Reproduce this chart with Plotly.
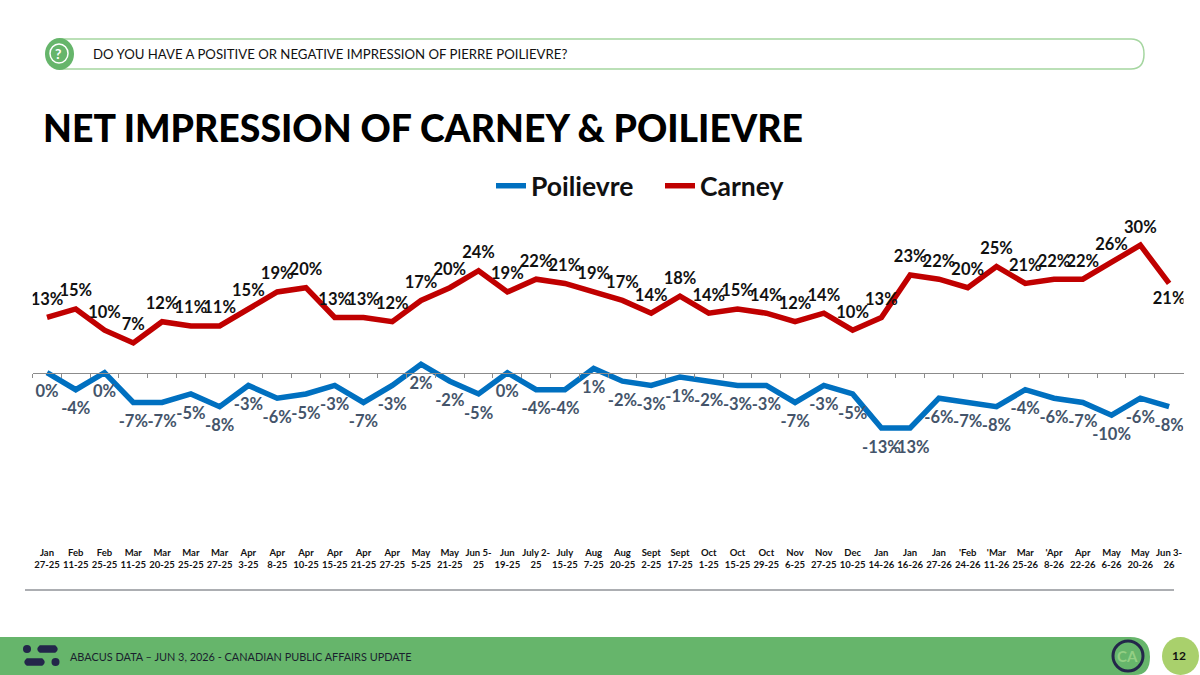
import plotly.graph_objects as go

W, H = 1200, 675

dates = ["Jan<br>27-25", "Feb<br>11-25", "Feb<br>25-25", "Mar<br>11-25", "Mar<br>20-25", "Mar<br>25-25", "Mar<br>27-25",
         "Apr<br>3-25", "Apr<br>8-25", "Apr<br>10-25", "Apr<br>15-25", "Apr<br>21-25", "Apr<br>27-25", "May<br>5-25",
         "May<br>21-25", "Jun 5-<br>25", "Jun<br>19-25", "July 2-<br>25", "July<br>15-25", "Aug<br>7-25", "Aug<br>20-25",
         "Sept<br>2-25", "Sept<br>17-25", "Oct<br>1-25", "Oct<br>15-25", "Oct<br>29-25", "Nov<br>6-25", "Nov<br>27-25",
         "Dec<br>10-25", "Jan<br>14-26", "Jan<br>16-26", "Jan<br>27-26", "'Feb<br>24-26", "'Mar<br>11-26", "Mar<br>25-26",
         "'Apr<br>8-26", "Apr<br>22-26", "May<br>6-26", "May<br>20-26", "Jun 3-<br>26"]
poilievre = [0, -4, 0, -7, -7, -5, -8, -3, -6, -5, -3, -7, -3, 2, -2, -5, 0, -4, -4, 1,
             -2, -3, -1, -2, -3, -3, -7, -3, -5, -13, -13, -6, -7, -8, -4, -6, -7, -10, -6, -8]
carney = [13, 15, 10, 7, 12, 11, 11, 15, 19, 20, 13, 13, 12, 17, 20, 24, 19, 22, 21, 19,
          17, 14, 18, 14, 15, 14, 12, 14, 10, 13, 23, 22, 20, 25, 21, 22, 22, 26, 30, 21]

FONT = "Lato"
GREEN = "#66B56B"
NAVY = "#23264A"
CLEAR = "rgba(0,0,0,0)"


def px(x):
    return x / W


def py(y):
    return 1 - y / H


def pct(vals):
    return [f"{v}%" for v in vals]


def pill(x0, x1, yc, h):
    r = h / 2
    return dict(type="path", xref="paper", yref="paper", fillcolor=NAVY, line_width=0,
                path=f"M {px(x0 + r)} {py(yc - r)} L {px(x1 - r)} {py(yc - r)} "
                     f"Q {px(x1 + r / 3)} {py(yc)} {px(x1 - r)} {py(yc + r)} L {px(x0 + r)} {py(yc + r)} "
                     f"Q {px(x0 - r / 3)} {py(yc)} {px(x0 + r)} {py(yc - r)} Z")


# invisible markers only push the labels off the line
fig = go.Figure()
fig.add_trace(go.Scatter(x=dates, y=poilievre, name="Poilievre", mode="lines+markers+text", xaxis="x2",
                         line=dict(color="#0070C0", width=5.5), marker=dict(size=18, color=CLEAR),
                         text=pct(poilievre), textposition="bottom center",
                         textfont=dict(family=FONT, size=16.5, color="#44546A", weight="bold")))
fig.add_trace(go.Scatter(x=dates, y=carney, name="Carney", mode="lines+markers+text",
                         line=dict(color="#C00000", width=5.5), marker=dict(size=12, color=CLEAR),
                         text=pct(carney), textposition=["top center"] * 39 + ["bottom center"],
                         textfont=dict(family=FONT, size=16.5, color="#111111", weight="bold")))

shapes = [
    # question bar
    dict(type="path", xref="paper", yref="paper", line=dict(color="#A5D6A0", width=1.5), fillcolor="white",
         path=f"M {px(60)} {py(39)} L {px(1131)} {py(39)} Q {px(1144)} {py(39)} {px(1144)} {py(54)} "
              f"Q {px(1144)} {py(69)} {px(1131)} {py(69)} L {px(60)} {py(69)} Z"),
    dict(type="circle", xref="paper", yref="paper", x0=px(45), x1=px(74), y0=py(38), y1=py(70),
         fillcolor=GREEN, line_width=0),
    dict(type="circle", xref="paper", yref="paper", x0=px(50), x1=px(68), y0=py(44), y1=py(63),
         fillcolor=GREEN, line=dict(color="white", width=1.5)),
    # rule under chart
    dict(type="line", xref="paper", yref="paper", x0=px(25), x1=px(1174), y0=py(590), y1=py(590),
         line=dict(color="#5A5F66", width=1.2)),
    # footer
    dict(type="path", xref="paper", yref="paper", fillcolor=GREEN, line_width=0,
         path=f"M 0 {py(637)} L {px(1130)} {py(637)} Q {px(1150)} {py(637)} {px(1150)} {py(657)} "
              f"Q {px(1150)} {py(675)} {px(1135)} {py(675)} L 0 {py(675)} Z"),
    dict(type="circle", xref="paper", yref="paper", x0=px(1162), x1=px(1199), y0=py(637), y1=py(675),
         fillcolor="#A9D06C", line_width=0),
    dict(type="circle", xref="paper", yref="paper", x0=px(1113), x1=px(1143), y0=py(641), y1=py(671),
         fillcolor=GREEN, line=dict(color=NAVY, width=3)),
    # footer logo
    dict(type="circle", xref="paper", yref="paper", x0=px(23), x1=px(31), y0=py(645), y1=py(653),
         fillcolor=NAVY, line_width=0),
    pill(36, 59, 649, 7.5),
    pill(23, 46, 662, 7.5),
    dict(type="circle", xref="paper", yref="paper", x0=px(51.5), x1=px(59.5), y0=py(658), y1=py(666),
         fillcolor=NAVY, line_width=0),
]


def note(x, y, text, size, color="#111111", anchor="left", weight="normal"):
    return dict(xref="paper", yref="paper", x=px(x), y=py(y), text=text, showarrow=False, xanchor=anchor,
                yanchor="middle", xshift=-1, font=dict(family=FONT, size=size, color=color, weight=weight))


annotations = [
    note(59, 53.5, "?", 14, "white", "center", "bold"),
    note(92, 54, "DO YOU HAVE A POSITIVE OR NEGATIVE IMPRESSION OF PIERRE POILIEVRE?", 13.2),
    note(42, 127, "NET IMPRESSION OF CARNEY &amp; POILIEVRE", 37.4, "#000000", weight=900),
    note(69, 656, "ABACUS DATA – JUN 3, 2026 - CANADIAN PUBLIC AFFAIRS UPDATE", 10.9, "#1A1F2E"),
    note(1128, 656, "CA", 15, "#93CF84", "center", "bold"),
    note(1180, 655, "12", 12, "#111111", "center", "bold"),
]

fig.update_layout(
    width=W, height=H, margin=dict(l=0, r=0, t=0, b=0),
    paper_bgcolor="white", plot_bgcolor="white",
    shapes=shapes, annotations=annotations,
    showlegend=True,
    legend=dict(orientation="h", x=px(491), xanchor="left", y=py(186), yanchor="middle",
                font=dict(family=FONT, size=26.5, color="#111111", weight="bold"),
                bgcolor=CLEAR, itemwidth=30, entrywidth=124, entrywidthmode="pixels"),
    xaxis=dict(domain=[px(32.6), px(1183.5)], type="category", categoryorder="array", categoryarray=dates,
               range=[-0.5, 39.5], showgrid=False, zeroline=False, showline=False, ticks="",
               tickangle=0, anchor="y", side="bottom",
               tickfont=dict(family=FONT, size=9.5, color="#111111", weight="bold")),
    xaxis2=dict(domain=[px(32.6), px(1183.5)], type="category", categoryorder="array", categoryarray=dates,
                range=[-0.5, 39.5], overlaying="x", anchor="free", position=py(372.7), side="bottom",
                showgrid=False, zeroline=False, showline=True, linecolor="#8C8C8C", linewidth=1,
                ticks="outside", ticklen=4, tickwidth=1, tickcolor="#8C8C8C", tickson="boundaries",
                showticklabels=False),
    yaxis=dict(domain=[py(545), py(200)], range=[-(545 - 372.7) / 4.25, (372.7 - 200) / 4.25],
               visible=False, showgrid=False, zeroline=False),
)

fig.write_html("out.html", config={"displayModeBar": False}, post_script="document.body.style.margin = '0';")
